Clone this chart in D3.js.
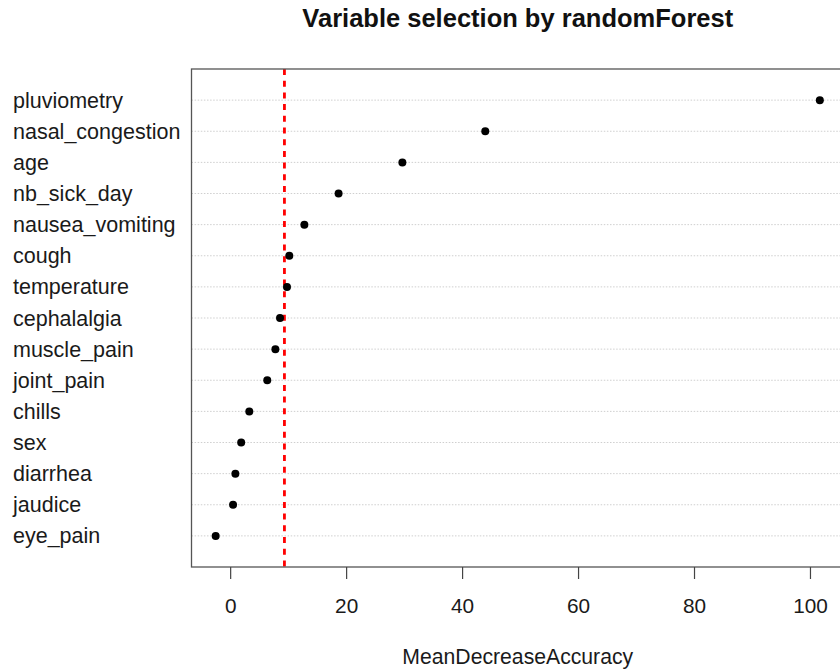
<!DOCTYPE html>
<html>
<head>
<meta charset="utf-8">
<script src="https://cdn.jsdelivr.net/npm/d3@7"></script>
<style>
  html, body { margin: 0; padding: 0; background: #fff; }
  svg { display: block; font-family: "Liberation Sans", Arial, sans-serif; }
</style>
</head>
<body>
<svg id="chart" width="840" height="670"></svg>
<script>
// ---- data (top to bottom as displayed) ----
const variables = ["pluviometry", "nasal_congestion", "age", "nb_sick_day", "nausea_vomiting",
  "cough", "temperature", "cephalalgia", "muscle_pain", "joint_pain", "chills", "sex",
  "diarrhea", "jaudice", "eye_pain"];
const meanDecreaseAccuracy = [101.7, 44.0, 29.7, 18.7, 12.8, 10.2, 9.8, 8.6, 7.8, 6.4,
  3.3, 1.9, 0.9, 0.5, -2.5];
const thresholdValue = 9.36;
const xTicks = [0, 20, 40, 60, 80, 100];
const titleText = "Variable selection by randomForest";
const xLabelText = "MeanDecreaseAccuracy";

// ---- layout ----
const svg = d3.select("#chart");
const box = { left: 191.5, right: 844, top: 69, bottom: 567 };
const n = variables.length;

const xMin = d3.min(meanDecreaseAccuracy), xMax = d3.max(meanDecreaseAccuracy);
const pad = (xMax - xMin) * 0.04;
const x = d3.scaleLinear().domain([xMin - pad, xMax + pad]).range([box.left, box.right]);
const y = d3.scaleLinear().domain([0, n + 1]).range([box.bottom, box.top]);
const rowPos = i => y(n - i);

// grid lines (dotted)
svg.append("g").selectAll("line").data(variables).join("line")
  .attr("x1", box.left).attr("x2", box.right)
  .attr("y1", (d, i) => rowPos(i)).attr("y2", (d, i) => rowPos(i))
  .attr("stroke", "#cfcfcf").attr("stroke-width", 1)
  .attr("stroke-dasharray", "1.5,1.6");

// threshold line
svg.append("line")
  .attr("x1", x(thresholdValue)).attr("x2", x(thresholdValue))
  .attr("y1", box.top).attr("y2", box.bottom)
  .attr("stroke", "#ff0000").attr("stroke-width", 2.8)
  .attr("stroke-dasharray", "6,5.7");

// points
svg.append("g").selectAll("circle").data(meanDecreaseAccuracy).join("circle")
  .attr("cx", d => x(d)).attr("cy", (d, i) => rowPos(i))
  .attr("r", 4).attr("fill", "#000");

// box
svg.append("rect")
  .attr("x", box.left).attr("y", box.top)
  .attr("width", box.right - box.left).attr("height", box.bottom - box.top)
  .attr("fill", "none").attr("stroke", "#555").attr("stroke-width", 1.3);

// x axis
const axis = d3.axisBottom(x).tickValues(xTicks).tickSize(12).tickPadding(20).tickFormat(d3.format("d"));
const gx = svg.append("g").attr("transform", `translate(0,${box.bottom})`).call(axis);
gx.select(".domain").remove();
gx.selectAll(".tick line").attr("stroke", "#444").attr("stroke-width", 1.2);
gx.selectAll(".tick text")
  .attr("fill", "#1a1a1a").attr("font-size", 20.8)
  .attr("font-family", "Liberation Sans, Arial, sans-serif")
  .attr("dy", null).attr("y", 46);

// y labels
svg.append("g").selectAll("text").data(variables).join("text")
  .attr("x", 13).attr("y", (d, i) => rowPos(i) + 7.6)
  .attr("font-size", 21.5).attr("fill", "#1a1a1a")
  .text(d => d);

// title
svg.append("text")
  .attr("x", (box.left + box.right) / 2).attr("y", 27)
  .attr("text-anchor", "middle").attr("font-size", 25.5).attr("font-weight", "bold")
  .attr("fill", "#111")
  .text(titleText);

// x label
svg.append("text")
  .attr("x", (box.left + box.right) / 2).attr("y", 664)
  .attr("text-anchor", "middle").attr("font-size", 21.2).attr("fill", "#1a1a1a")
  .text(xLabelText);
</script>
</body>
</html>
